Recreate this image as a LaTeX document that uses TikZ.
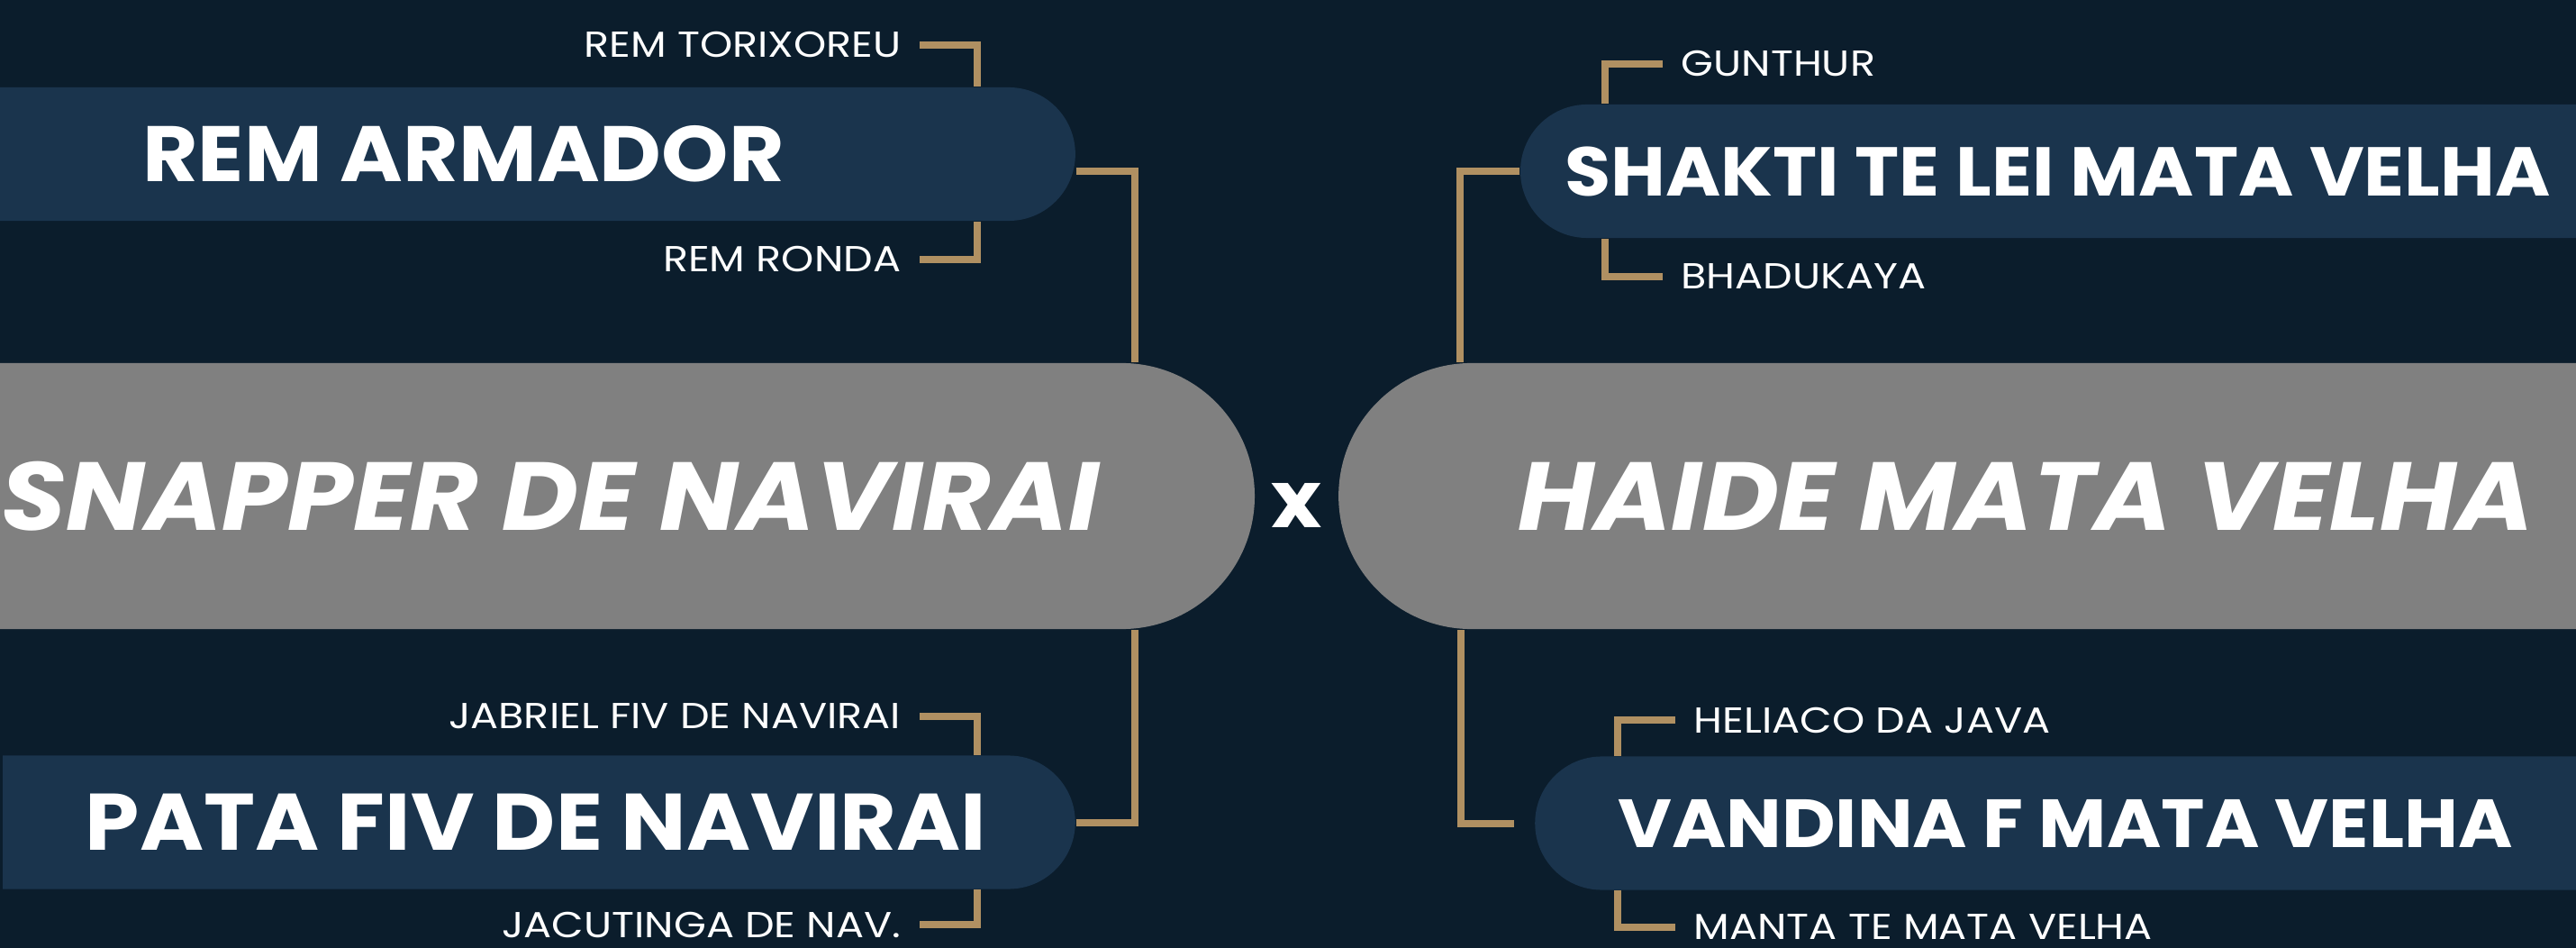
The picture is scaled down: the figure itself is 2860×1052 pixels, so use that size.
\documentclass[tikz,border=0pt]{standalone}
\usepackage{fontspec}
\setmainfont{Poppins}
\newfontfamily\namefont{Poppins}[FakeStretch=1.085]
\newfontfamily\grandfont{Poppins}[FakeStretch=1.15]
\usetikzlibrary{shapes.misc}
\definecolor{nightbg}{RGB}{11,29,44}
\definecolor{pillblue}{RGB}{26,52,77}
\definecolor{pillgrey}{RGB}{128,128,128}
\definecolor{goldline}{RGB}{176,144,98}

\begin{document}
\begin{tikzpicture}[
  x=0.01cm, y=-0.01cm,
  every node/.style={text=white},
  sire/.style={rounded rectangle, fill=pillblue, minimum height=1.48cm,
    inner sep=0pt, font=\namefont\fontsize{24.8}{28}\selectfont\bfseries},
  horse/.style={rounded rectangle, fill=pillgrey, minimum height=2.95cm,
    inner sep=0pt, font=\namefont\fontsize{30.5}{34}\selectfont\bfseries\itshape},
  grand/.style={font=\grandfont\fontsize{11.4}{13}\selectfont, inner xsep=0.2cm, inner ysep=0pt},
  bracket/.style={draw=goldline, line width=0.08cm}
]

% --- Háttér ---
\fill[nightbg] (0,0) rectangle (2860,1052);
\useasboundingbox (0,0) rectangle (2860,1052);

% --- Fő csomópontok ---
\node[horse, rounded rectangle left arc=none, minimum width=15.58cm] (snapper) at (611,550.5) {SNAPPER DE NAVIRAI};
\node[horse, rounded rectangle right arc=none, minimum width=15.2cm] (haide) at (2249,550.5) {HAIDE MATA VELHA};
\node[font=\namefont\fontsize{25}{28}\selectfont\bfseries] (versus) at (1440,561) {x};

% --- Szülők ---
\node[sire, rounded rectangle left arc=none, minimum width=13.51cm] (armador) at (514.5,171) {REM ARMADOR};
\node[sire, rounded rectangle left arc=none, minimum width=11.9cm,
  font=\namefont\fontsize{25.3}{28}\selectfont\bfseries] (pata) at (595,912.5) {PATA FIV DE NAVIRAI};
\node[sire, rounded rectangle right arc=none, minimum width=11.87cm,
  font=\namefont\fontsize{21.8}{24}\selectfont\bfseries] (shakti) at (2284.5,190) {SHAKTI TE LEI MATA VELHA};
\node[sire, rounded rectangle right arc=none, minimum width=11.72cm,
  font=\namefont\fontsize{21.5}{24}\selectfont\bfseries] (vandina) at (2293,913.5) {VANDINA F MATA VELHA};

% --- Nagyszülők ---
\node[grand, anchor=east] (torixoreu) at (1021,50) {REM TORIXOREU};
\node[grand, anchor=east] (ronda) at (1021,288) {REM RONDA};
\node[grand, anchor=east] (jabriel) at (1021,795) {JABRIEL FIV DE NAVIRAI};
\node[grand, anchor=east] (jacutinga) at (1021,1026) {JACUTINGA DE NAV.};
\node[grand, anchor=west] (gunthur) at (1846,71) {GUNTHUR};
\node[grand, anchor=west] (bhadukaya) at (1846,307) {BHADUKAYA};
\node[grand, anchor=west] (heliaco) at (1860,799) {HELIACO DA JAVA};
\node[grand, anchor=west] (manta) at (1860,1029) {MANTA TE MATA VELHA};

% --- Nagyszülők -> szülők ---
\draw[bracket] (torixoreu.east) -- ++(64,0) coordinate (t1) -- (t1 |- armador.north);
\draw[bracket] (ronda.east) -- ++(64,0) coordinate (t2) -- (t2 |- armador.south);
\draw[bracket] (jabriel.east) -- ++(64,0) coordinate (t3) -- (t3 |- pata.north);
\draw[bracket] (jacutinga.east) -- ++(64,0) coordinate (t4) -- (t4 |- pata.south);
\draw[bracket] (gunthur.west) -- ++(-64,0) coordinate (t5) -- (t5 |- shakti.north);
\draw[bracket] (bhadukaya.west) -- ++(-64,0) coordinate (t6) -- (t6 |- shakti.south);
\draw[bracket] (heliaco.west) -- ++(-64,0) coordinate (t7) -- (t7 |- vandina.north);
\draw[bracket] (manta.west) -- ++(-64,0) coordinate (t8) -- (t8 |- vandina.south);

% --- Szülők -> fő csomópontok ---
\draw[bracket] ([yshift=-0.19cm]armador.east) -- ++(65,0) coordinate (a1) -- (a1 |- snapper.north);
\draw[bracket] (pata.east) -- ++(65,0) coordinate (p1) -- (p1 |- snapper.south);
\draw[bracket] (shakti.west) -- ++(-66,0) coordinate (s1) -- (s1 |- haide.north);
\draw[bracket] ([xshift=-0.23cm]vandina.west) -- ++(-59,0) coordinate (v1) -- (v1 |- haide.south);

\end{tikzpicture}
\end{document}
